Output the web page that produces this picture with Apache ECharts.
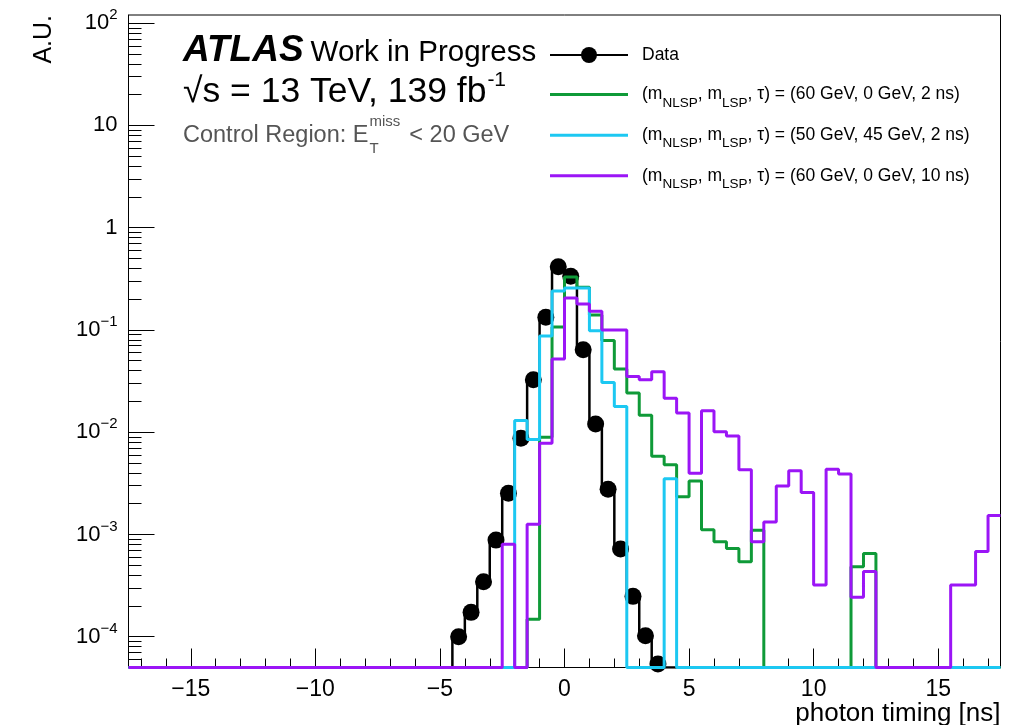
<!DOCTYPE html>
<html>
<head>
<meta charset="utf-8">
<script src="https://cdn.jsdelivr.net/npm/echarts@6/dist/echarts.min.js"></script>
<style>
  html, body { margin: 0; padding: 0; background: #fff; }
  #chart { width: 1009px; height: 725px; }
</style>
</head>
<body>
<div id="chart"></div>
<script>
// Axis ranges and binning (0.5 ns bins from -17.5 to 17.5 ns)
const X_MIN = -17.5;
const X_MAX = 17.5;
const BIN_WIDTH = 0.5;
const Y_MIN = 5e-5;
const Y_MAX = 120;

const xMajorTicks = [-15, -10, -5, 0, 5, 10, 15];
const xMinorTicks = [];
for (let v = -17; v <= 17; v++) xMinorTicks.push(v);

const yMajorTicks = [1e-4, 1e-3, 1e-2, 1e-1, 1, 10, 100];
const yTickLabels = ['10{sup|−4}', '10{sup|−3}', '10{sup|−2}', '10{sup|−1}', '1', '10', '10{sup|2}'];
const yMinorTicks = [];
for (let e = -5; e <= 1; e++) {
  for (let k = 2; k <= 9; k++) {
    const v = k * Math.pow(10, e);
    if (v >= Y_MIN && v <= Y_MAX) yMinorTicks.push(v);
  }
}

const seriesNames = ['Data', 'sig_60_0_2', 'sig_50_45_2', 'sig_60_0_10'];
const legendLabels = [
  'Data',
  '(m{sub|NLSP}, m{sub|LSP}, τ) = (60 GeV, 0 GeV, 2 ns)',
  '(m{sub|NLSP}, m{sub|LSP}, τ) = (50 GeV, 45 GeV, 2 ns)',
  '(m{sub|NLSP}, m{sub|LSP}, τ) = (60 GeV, 0 GeV, 10 ns)'
];
const seriesColors = ['#000000', '#0f9a38', '#1cc8f2', '#9b15f6'];

// Bin contents, bin i covers [-17.5 + 0.5*i, -17.0 + 0.5*i]
const dataValues = [
  0, 0, 0, 0, 0, 0, 0, 0, 0, 0,
  0, 0, 0, 0, 0, 0, 0, 0, 0, 0,
  0, 0, 0, 0, 0, 0, 1.0e-4, 1.73e-4, 3.45e-4, 8.8e-4,
  2.53e-3, 8.7e-3, 0.0325, 0.133, 0.414, 0.335, 0.064, 0.012, 2.77e-3, 7.2e-4,
  2.48e-4, 1.02e-4, 5.4e-5, 0, 0, 0, 0, 0, 0, 0,
  0, 0, 0, 0, 0, 0, 0, 0, 0, 0,
  0, 0, 0, 0, 0, 0, 0, 0, 0, 0
];
const sig60_0_2 = [
  0, 0, 0, 0, 0, 0, 0, 0, 0, 0,
  0, 0, 0, 0, 0, 0, 0, 0, 0, 0,
  0, 0, 0, 0, 0, 0, 0, 0, 0, 0,
  0, 0, 1.48e-4, 8.9e-3, 0.107, 0.33, 0.262, 0.14, 0.079, 0.0414,
  0.0241, 0.0146, 5.8e-3, 4.8e-3, 2.34e-3, 3.34e-3, 1.11e-3, 8.5e-4, 7.3e-4, 5.4e-4,
  1.1e-3, 0, 0, 0, 0, 0, 0, 0, 4.84e-4, 6.5e-4,
  0, 0, 0, 0, 0, 0, 0, 0, 0, 0
];
const sig50_45_2 = [
  0, 0, 0, 0, 0, 0, 0, 0, 0, 0,
  0, 0, 0, 0, 0, 0, 0, 0, 0, 0,
  0, 0, 0, 0, 0, 0, 0, 0, 0, 0,
  0, 0.013, 8.5e-3, 0.087, 0.24, 0.257, 0.257, 0.098, 0.0306, 0.0178,
  0, 0, 0, 3.5e-3, 0, 0, 0, 0, 0, 0,
  0, 0, 0, 0, 0, 0, 0, 0, 0, 0,
  0, 0, 0, 0, 0, 0, 0, 0, 0, 0
];
const sig60_0_10 = [
  0, 0, 0, 0, 0, 0, 0, 0, 0, 0,
  0, 0, 0, 0, 0, 0, 0, 0, 0, 0,
  0, 0, 0, 0, 0, 0, 0, 0, 0, 0,
  8.0e-4, 0, 1.26e-3, 7.8e-3, 0.052, 0.205, 0.179, 0.152, 0.1, 0.1,
  0.035, 0.0325, 0.039, 0.0215, 0.0154, 3.97e-3, 0.0162, 0.0101, 9.2e-3, 4.3e-3,
  8.5e-4, 1.32e-3, 2.98e-3, 4.2e-3, 2.57e-3, 3.2e-4, 4.35e-3, 3.9e-3, 2.43e-4, 4.33e-4,
  0, 0, 0, 0, 0, 0, 3.2e-4, 3.2e-4, 6.8e-4, 1.53e-3
];

const FONT = '"Liberation Sans", Arial, Helvetica, sans-serif';

// Empty bins sit on the lower edge of the log axis
const floorValue = v => (v > 0 ? v : Y_MIN);

// Step outline through the bin edges
function histogramPoints(values) {
  const pts = values.map((v, i) => [X_MIN + i * BIN_WIDTH, floorValue(v)]);
  pts.push([X_MAX, floorValue(values[values.length - 1])]);
  return pts;
}
// Bin centres, markers only for filled bins
function markerPoints(values) {
  return values.map((v, i) => {
    const x = X_MIN + (i + 0.5) * BIN_WIDTH;
    return v > 0 ? [x, v] : { value: [x, Y_MIN], symbol: 'none' };
  });
}

const measureCtx = document.createElement('canvas').getContext('2d');
function textWidth(text, font) {
  measureCtx.font = font;
  return measureCtx.measureText(text).width;
}

const chart = echarts.init(document.getElementById('chart'), null, { renderer: 'canvas' });

const fontAtlas = 'italic bold 37px ' + FONT;
const fontWip = '29.5px ' + FONT;
const fontLumi = '35.5px ' + FONT;
const fontLumiSup = '21px ' + FONT;
const fontRegion = '23.5px ' + FONT;
const fontRegionIdx = '15px ' + FONT;

const textX = 183;
const atlasW = textWidth('ATLAS', fontAtlas);
const lumiMain = '√s = 13 TeV, 139 fb';
const lumiW = textWidth(lumiMain, fontLumi);
const regionMain = 'Control Region: E';
const regionW = textWidth(regionMain, fontRegion);
const missW = textWidth('miss', fontRegionIdx);

const graphics = [
  { type: 'text', style: { x: textX, y: 51, text: 'ATLAS', font: fontAtlas, fill: '#000', verticalAlign: 'middle' } },
  { type: 'text', style: { x: textX + atlasW + 7, y: 53, text: 'Work in Progress', font: fontWip, fill: '#000', verticalAlign: 'middle' } },
  { type: 'text', style: { x: textX, y: 92, text: lumiMain, font: fontLumi, fill: '#000', verticalAlign: 'middle' } },
  { type: 'text', style: { x: textX + lumiW + 1, y: 80, text: '-1', font: fontLumiSup, fill: '#000', verticalAlign: 'middle' } },
  { type: 'text', style: { x: textX, y: 136, text: regionMain, font: fontRegion, fill: '#555', verticalAlign: 'middle' } },
  { type: 'text', style: { x: textX + regionW + 1, y: 122, text: 'miss', font: fontRegionIdx, fill: '#555', verticalAlign: 'middle' } },
  { type: 'text', style: { x: textX + regionW + 1, y: 149, text: 'T', font: fontRegionIdx, fill: '#555', verticalAlign: 'middle' } },
  { type: 'text', style: { x: textX + regionW + missW + 10, y: 136, text: '< 20 GeV', font: fontRegion, fill: '#555', verticalAlign: 'middle' } },
  { type: 'text', rotation: Math.PI / 2, x: 44, y: 15, style: { x: 0, y: 0, text: 'A.U.', font: '25px ' + FONT, fill: '#000', align: 'right', verticalAlign: 'middle' } }
];

const histSeries = [sig60_0_2, sig50_45_2, sig60_0_10].map((vals, k) => ({
  name: seriesNames[k + 1],
  type: 'line',
  step: 'end',
  symbol: 'none',
  data: histogramPoints(vals),
  lineStyle: { color: seriesColors[k + 1], width: 3 },
  itemStyle: { color: seriesColors[k + 1] },
  z: 3 + k,
  silent: true
}));

// Plain line sample for the histogram entries
const lineIcon = 'path://M0,0H78V3H0Z';

const option = {
  animation: false,
  backgroundColor: '#ffffff',
  textStyle: { fontFamily: FONT },
  grid: {
    left: 128.5, top: 15, width: 872, height: 652.5,
    show: true, borderColor: '#000', borderWidth: 1, backgroundColor: 'transparent',
    outerBoundsMode: 'none', containLabel: false
  },
  legend: {
    orient: 'vertical', left: 549, top: 40.5, padding: 0,
    itemWidth: 78, itemHeight: 20, itemGap: 10.6,
    selectedMode: false,
    data: [
      { name: seriesNames[0] },
      { name: seriesNames[1], icon: lineIcon },
      { name: seriesNames[2], icon: lineIcon },
      { name: seriesNames[3], icon: lineIcon }
    ],
    formatter: name => legendLabels[seriesNames.indexOf(name)],
    textStyle: {
      fontFamily: FONT, fontSize: 17.5, color: '#000', lineHeight: 29, padding: [0, 0, 0, 9],
      rich: { sub: { fontFamily: FONT, fontSize: 13.5, color: '#000', padding: [17, 0, 0, 0] } }
    }
  },
  xAxis: [
    {
      type: 'value', min: X_MIN, max: X_MAX, position: 'bottom',
      name: 'photon timing [ns]', nameLocation: 'end', nameGap: 0, nameMoveOverlap: false,
      nameTextStyle: { fontFamily: FONT, fontSize: 26, color: '#000', align: 'right', verticalAlign: 'top', padding: [33, 0, 0, 0] },
      axisLine: { show: true, onZero: false, lineStyle: { color: '#000', width: 1 } },
      axisTick: { show: true, inside: true, length: 19, customValues: xMajorTicks, lineStyle: { color: '#000', width: 1 } },
      axisLabel: {
        show: true, customValues: xMajorTicks, margin: 11, fontFamily: FONT, fontSize: 23, color: '#000',
        formatter: v => (v < 0 ? '−' + Math.abs(v) : String(v))
      },
      splitLine: { show: false }
    },
    {
      type: 'value', min: X_MIN, max: X_MAX, position: 'bottom',
      axisLine: { show: false, onZero: false },
      axisTick: { show: true, inside: true, length: 9, customValues: xMinorTicks, lineStyle: { color: '#000', width: 1 } },
      axisLabel: { show: false },
      splitLine: { show: false }
    }
  ],
  yAxis: [
    {
      type: 'log', logBase: 10, min: Y_MIN, max: Y_MAX, position: 'left',
      axisLine: { show: true, onZero: false, lineStyle: { color: '#000', width: 1 } },
      axisTick: { show: true, inside: true, length: 26, customValues: yMajorTicks, lineStyle: { color: '#000', width: 1 } },
      axisLabel: {
        show: true, customValues: yMajorTicks, margin: 11, fontFamily: FONT, fontSize: 22, color: '#000',
        formatter: v => {
          let best = 0;
          yMajorTicks.forEach((t, i) => { if (Math.abs(Math.log10(t) - Math.log10(v)) < 1e-6) best = i; });
          return yTickLabels[best];
        },
        rich: { sup: { fontFamily: FONT, fontSize: 15, color: '#000', padding: [0, 0, 16, 0] } }
      },
      splitLine: { show: false }
    },
    {
      type: 'log', logBase: 10, min: Y_MIN, max: Y_MAX, position: 'left',
      axisLine: { show: false, onZero: false },
      axisTick: { show: true, inside: true, length: 13, customValues: yMinorTicks, lineStyle: { color: '#000', width: 1 } },
      axisLabel: { show: false },
      splitLine: { show: false }
    }
  ],
  graphic: graphics,
  series: [
    {
      name: seriesNames[0],
      type: 'line',
      step: 'middle',
      symbol: 'circle',
      symbolSize: 17,
      showAllSymbol: true,
      data: markerPoints(dataValues),
      lineStyle: { color: '#000', width: 2.5 },
      itemStyle: { color: '#000' },
      z: 2,
      silent: true
    }
  ].concat(histSeries)
};

chart.setOption(option);
</script>
</body>
</html>
